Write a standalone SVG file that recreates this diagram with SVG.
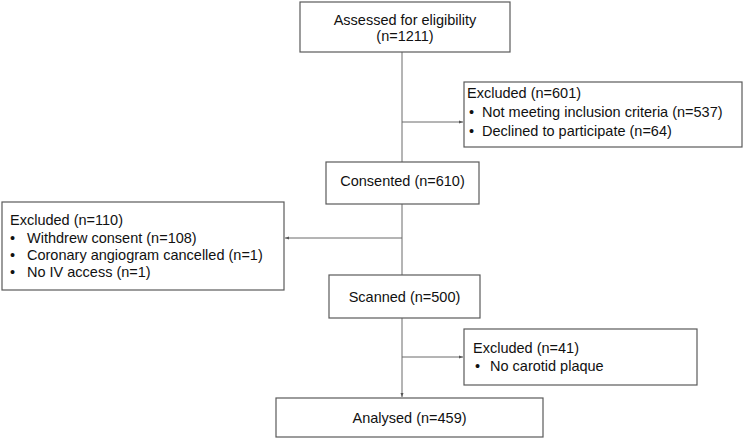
<svg xmlns="http://www.w3.org/2000/svg" width="750" height="439" viewBox="0 0 750 439">
<style>
.box{fill:#fff;stroke:#5a5a5a;stroke-width:1.2}
.t{font-family:"Liberation Sans",Arial,sans-serif;font-size:14.5px;fill:#111}
.c{text-anchor:middle}
.ln{stroke:#6a6a6a;stroke-width:1;fill:none}
</style>
<defs>
<marker id="ah" markerWidth="4" markerHeight="4" refX="4" refY="2" orient="auto" markerUnits="userSpaceOnUse">
<path d="M0,0.5 L4,2 L0,3.5 Z" fill="#555"/>
</marker>
</defs>
<rect width="750" height="439" fill="#fff"/>
<g id="connectors">
<line class="ln" x1="402" y1="52" x2="402" y2="162"/>
<line class="ln" x1="402" y1="122" x2="463" y2="122" marker-end="url(#ah)"/>
<line class="ln" x1="402" y1="204" x2="402" y2="275"/>
<line class="ln" x1="402" y1="238" x2="285" y2="238" marker-end="url(#ah)"/>
<line class="ln" x1="402" y1="318" x2="402" y2="397" marker-end="url(#ah)"/>
<line class="ln" x1="402" y1="357" x2="463" y2="357" marker-end="url(#ah)"/>
</g>
<g id="assessed">
<rect class="box" x="300" y="2" width="210" height="50"/>
<text class="t c" x="405" y="25">Assessed for eligibility</text>
<text class="t c" x="405" y="41">(n=1211)</text>
</g>
<g id="excluded601">
<rect class="box" x="464" y="82" width="278" height="65"/>
<text class="t" x="467" y="98">Excluded (n=601)</text>
<text class="t" x="469" y="117">•</text><text class="t" x="482" y="117">Not meeting inclusion criteria (n=537)</text>
<text class="t" x="469" y="136">•</text><text class="t" x="482" y="136">Declined to participate (n=64)</text>
</g>
<g id="consented">
<rect class="box" x="326" y="162" width="153" height="42"/>
<text class="t c" x="402.5" y="186">Consented (n=610)</text>
</g>
<g id="excluded110">
<rect class="box" x="2" y="202" width="282" height="88"/>
<text class="t" x="10" y="225">Excluded (n=110)</text>
<text class="t" x="10" y="243">•</text><text class="t" x="27" y="243">Withdrew consent (n=108)</text>
<text class="t" x="10" y="260">•</text><text class="t" x="27" y="260">Coronary angiogram cancelled (n=1)</text>
<text class="t" x="10" y="277">•</text><text class="t" x="27" y="277">No IV access (n=1)</text>
</g>
<g id="scanned">
<rect class="box" x="329" y="275" width="151" height="43"/>
<text class="t c" x="404.5" y="302">Scanned (n=500)</text>
</g>
<g id="excluded41">
<rect class="box" x="464" y="329" width="233" height="56"/>
<text class="t" x="473" y="353">Excluded (n=41)</text>
<text class="t" x="475" y="371">•</text><text class="t" x="490" y="371">No carotid plaque</text>
</g>
<g id="analysed">
<rect class="box" x="276" y="398" width="267" height="39"/>
<text class="t c" x="409.5" y="423">Analysed (n=459)</text>
</g>
</svg>
